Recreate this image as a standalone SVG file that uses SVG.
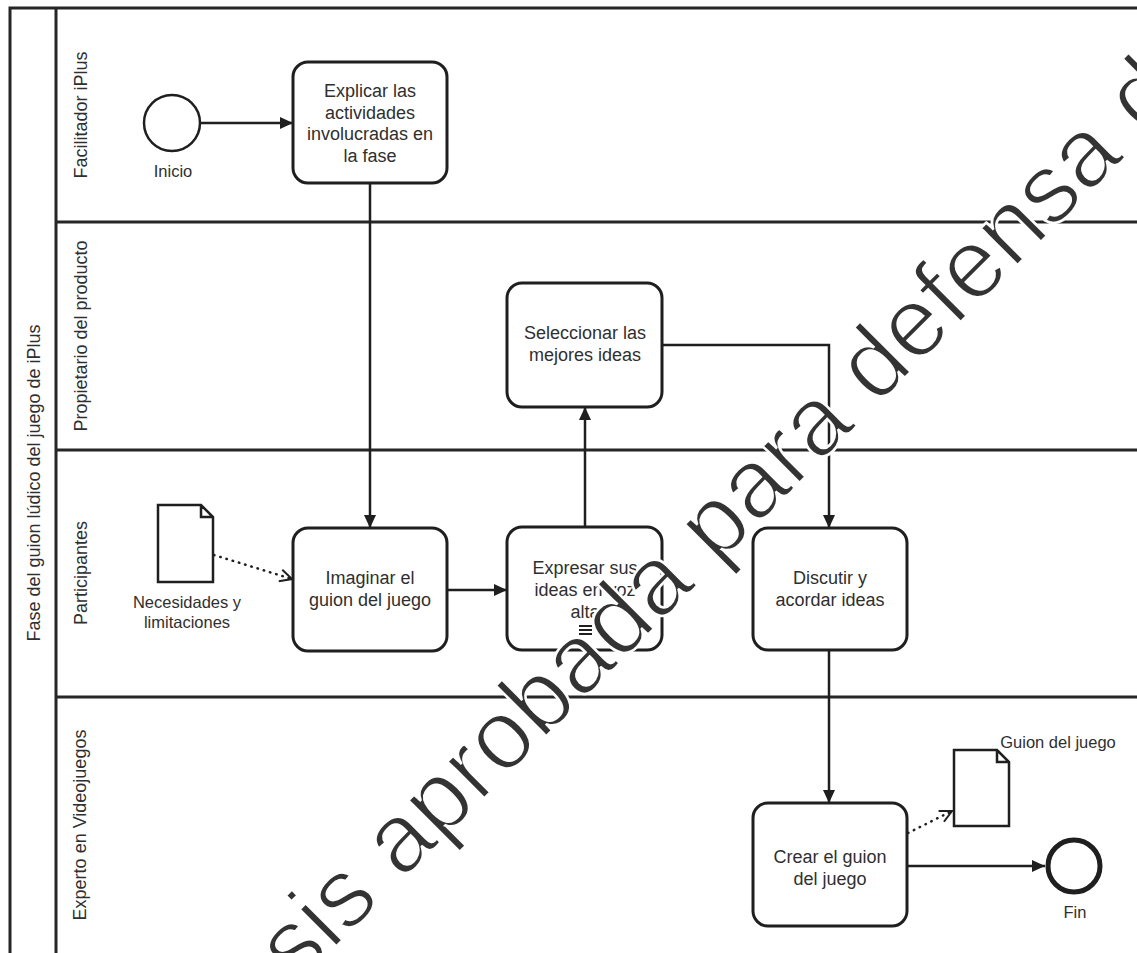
<svg xmlns="http://www.w3.org/2000/svg" width="1137" height="953" viewBox="0 0 1137 953">
  <defs>
    <style>
      .pool { fill: #ffffff; stroke: #262626; stroke-width: 3; }
      .lane { stroke: #262626; stroke-width: 3; fill: none; }
      .task { fill: #ffffff; stroke: #1f1f1f; stroke-width: 3; }
      .txt { font-family: "Liberation Sans", Arial, sans-serif; font-size: 18px; fill: #2f2f2f; text-anchor: middle; }
      .lbl { font-family: "Liberation Sans", Arial, sans-serif; font-size: 16.5px; fill: #2f2f2f; text-anchor: middle; }
      .flow { fill: none; stroke: #1f1f1f; stroke-width: 2.5; }
      .assoc { fill: none; stroke: #1f1f1f; stroke-width: 2.5; stroke-dasharray: 0.5 6; stroke-linecap: round; }
      .doc { fill: #ffffff; stroke: #1f1f1f; stroke-width: 2.5; stroke-linejoin: miter; }
      .mark { font-family: "Liberation Sans", Arial, sans-serif; font-size: 99px; fill: #333333; stroke: #ffffff; stroke-width: 2.6; paint-order: fill; }
    </style>
    <marker id="arrow" markerUnits="userSpaceOnUse" markerWidth="14" markerHeight="12" refX="13" refY="6" orient="auto">
      <path d="M0,0 L13,6 L0,12 z" fill="#1f1f1f"/>
    </marker>
    <marker id="open" markerUnits="userSpaceOnUse" markerWidth="16" markerHeight="16" refX="13" refY="7" orient="auto">
      <path d="M1,1 L13,7 L1,13" fill="none" stroke="#1f1f1f" stroke-width="2"/>
    </marker>
  </defs>

  <rect width="1137" height="953" fill="#ffffff"/>

  <!-- pool and lanes -->
  <g id="pool">
    <rect class="pool" x="10" y="8" width="1145" height="960"/>
    <line class="lane" x1="56" y1="8" x2="56" y2="968"/>
    <line class="lane" x1="56" y1="222" x2="1145" y2="222"/>
    <line class="lane" x1="56" y1="450" x2="1145" y2="450"/>
    <line class="lane" x1="56" y1="697" x2="1145" y2="697"/>
    <text class="txt" transform="translate(40,483) rotate(-90)">Fase del guion lúdico del juego de iPlus</text>
    <text class="txt" transform="translate(87,115) rotate(-90)">Facilitador iPlus</text>
    <text class="txt" transform="translate(87,336) rotate(-90)">Propietario del producto</text>
    <text class="txt" transform="translate(87,573) rotate(-90)">Participantes</text>
    <text class="txt" transform="translate(86,825) rotate(-90)">Experto en Videojuegos</text>
  </g>

  <!-- connectors -->
  <g id="connectors">
    <line class="flow" x1="200" y1="123" x2="293" y2="123" marker-end="url(#arrow)"/>
    <line class="flow" x1="370" y1="183" x2="370" y2="528" marker-end="url(#arrow)"/>
    <line class="flow" x1="447" y1="590" x2="507" y2="590" marker-end="url(#arrow)"/>
    <line class="flow" x1="585" y1="527" x2="585" y2="407" marker-end="url(#arrow)"/>
    <polyline class="flow" points="662,345 829,345 829,528" marker-end="url(#arrow)"/>
    <line class="flow" x1="829" y1="650" x2="829" y2="803" marker-end="url(#arrow)"/>
    <line class="flow" x1="907" y1="866" x2="1045" y2="866" marker-end="url(#arrow)"/>
    <line class="assoc" x1="214" y1="555" x2="292" y2="579" marker-end="url(#open)"/>
    <line class="assoc" x1="908" y1="833" x2="952" y2="811" marker-end="url(#open)"/>
  </g>

  <!-- start event -->
  <g id="inicio">
    <circle cx="172" cy="123" r="28" fill="#ffffff" stroke="#1f1f1f" stroke-width="2.5"/>
    <text class="lbl" x="173" y="177">Inicio</text>
  </g>

  <g id="explicar">
    <rect class="task" x="293" y="62" width="154" height="121" rx="15"/>
    <text class="txt" x="370" y="97">Explicar las</text>
    <text class="txt" x="370" y="119">actividades</text>
    <text class="txt" x="370" y="140">involucradas en</text>
    <text class="txt" x="370" y="162">la fase</text>
  </g>

  <g id="seleccionar">
    <rect class="task" x="507" y="283" width="155" height="124" rx="15"/>
    <text class="txt" x="585" y="339">Seleccionar las</text>
    <text class="txt" x="585" y="361">mejores ideas</text>
  </g>

  <g id="necesidades">
    <path class="doc" d="M158,505 L201,505 L213,517 L213,582 L158,582 z M201,505 L201,517 L213,517"/>
    <text class="lbl" x="187" y="608">Necesidades y</text>
    <text class="lbl" x="187" y="628">limitaciones</text>
  </g>

  <g id="imaginar">
    <rect class="task" x="293" y="528" width="154" height="123" rx="15"/>
    <text class="txt" x="370" y="584">Imaginar el</text>
    <text class="txt" x="370" y="606">guion del juego</text>
  </g>

  <g id="expresar">
    <rect class="task" x="507" y="527" width="155" height="123" rx="15"/>
    <text class="txt" x="585" y="574">Expresar sus</text>
    <text class="txt" x="585" y="596">ideas en voz</text>
    <text class="txt" x="585" y="618">alta</text>
    <path d="M579,626 H592 M579,630 H592 M579,634 H592" stroke="#1f1f1f" stroke-width="2" fill="none"/>
  </g>

  <g id="discutir">
    <rect class="task" x="753" y="528" width="154" height="122" rx="15"/>
    <text class="txt" x="830" y="584">Discutir y</text>
    <text class="txt" x="830" y="606">acordar ideas</text>
  </g>

  <g id="crear">
    <rect class="task" x="753" y="803" width="154" height="123" rx="15"/>
    <text class="txt" x="830" y="863">Crear el guion</text>
    <text class="txt" x="830" y="885">del juego</text>
  </g>

  <g id="guion">
    <path class="doc" d="M954,750 L997,750 L1009,762 L1009,826 L954,826 z M997,750 L997,762 L1009,762"/>
    <text class="lbl" x="1058" y="748">Guion del juego</text>
  </g>

  <!-- end event -->
  <g id="fin">
    <circle cx="1074" cy="866" r="26" fill="#ffffff" stroke="#1f1f1f" stroke-width="5"/>
    <text class="lbl" x="1075" y="918">Fin</text>
  </g>

  <!-- watermark -->
  <text class="mark" transform="rotate(-45)" x="-592" y="907">Tesis aprobada para defensa de</text>
</svg>
